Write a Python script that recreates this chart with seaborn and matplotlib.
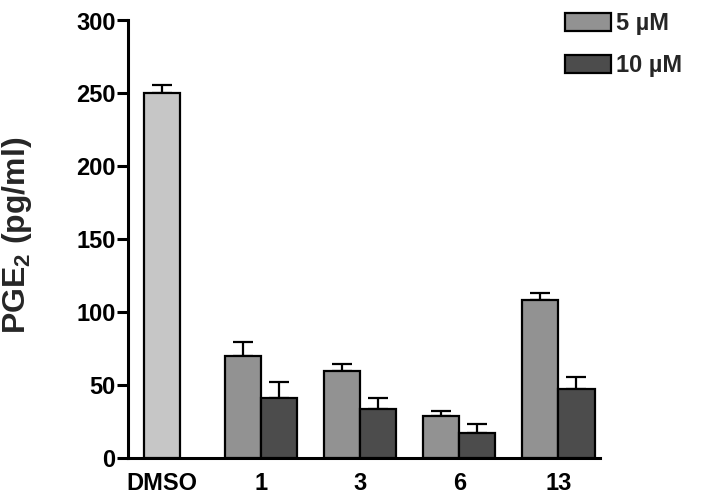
import matplotlib
matplotlib.use("Agg")
import matplotlib.pyplot as plt
import matplotlib.patches as mpatches
import seaborn as sns
import pandas as pd
import numpy as np

# ---- data ----
groups = ["DMSO", "1", "3", "6", "13"]
compounds = ["1", "3", "6", "13"]
concs = ["5 µM", "10 µM"]
dmso_value = 250.3
dmso_err = 5.5
vals_5 = [70.0, 59.2, 28.8, 108.4]
errs_5 = [9.1, 5.1, 3.2, 4.6]
vals_10 = [41.0, 33.6, 16.9, 46.7]
errs_10 = [10.5, 7.4, 6.2, 8.7]
yticks = [0, 50, 100, 150, 200, 250, 300]

sns.set_theme(style="white")
plt.rcParams["font.family"] = ["Liberation Sans", "DejaVu Sans"]
plt.rcParams["font.weight"] = "bold"
plt.rcParams["mathtext.fontset"] = "custom"
plt.rcParams["mathtext.rm"] = "Liberation Sans:bold"
plt.rcParams["mathtext.default"] = "rm"

c_dmso = "#c6c6c6"
c_5 = "#929292"
c_10 = "#4c4c4c"

df = pd.DataFrame({
    "group": compounds * 2,
    "conc": [concs[0]] * 4 + [concs[1]] * 4,
    "value": vals_5 + vals_10,
})

fig = plt.figure(figsize=(7.14, 4.94), dpi=100)
ax = fig.add_axes([128 / 714, 1 - 457.5 / 494, 472 / 714, 437 / 494])

sns.barplot(data=df, x="group", y="value", hue="conc", order=groups,
            hue_order=concs, palette=[c_5, c_10], width=0.73,
            edgecolor="black", linewidth=1.6, errorbar=None, ax=ax,
            legend=False, zorder=3)
sns.barplot(x=["DMSO"], y=[dmso_value], order=groups, color=c_dmso,
            width=0.365, edgecolor="black", linewidth=1.6, errorbar=None,
            ax=ax, zorder=3)

# error bars (upper only) at bar positions
bars = sorted([p for p in ax.patches if p.get_height() > 0],
              key=lambda p: p.get_x())
dmso_bar = bars[0]
other = bars[1:]
errs_inter = []
for a, b in zip(errs_5, errs_10):
    errs_inter += [a, b]
xs = [dmso_bar.get_x() + dmso_bar.get_width() / 2] + \
     [p.get_x() + p.get_width() / 2 for p in other]
hs = [dmso_bar.get_height()] + [p.get_height() for p in other]
es = [dmso_err] + errs_inter
ax.errorbar(xs, hs, yerr=[np.zeros(len(es)), es], fmt="none",
            ecolor="black", elinewidth=1.6, capsize=7, capthick=1.6,
            zorder=2)

ax.set_ylim(0, 300)
ax.set_xlim(-0.343, 4.42)
ax.set_yticks(yticks)
ax.set_yticklabels([str(t) for t in yticks], fontsize=17, fontweight="bold")
ax.set_xticks(range(len(groups)))
ax.set_xticklabels(groups, fontsize=17, fontweight="bold")
ax.set_xlabel("")
ax.set_ylabel(r"PGE$_2$ (pg/ml)", fontsize=23, fontweight="bold")
ax.yaxis.set_label_coords(-0.199, 0.508)

for s in ["top", "right"]:
    ax.spines[s].set_visible(False)
for s in ["left", "bottom"]:
    ax.spines[s].set_linewidth(2.2)
    ax.spines[s].set_color("black")
ax.tick_params(axis="y", direction="out", length=8, width=2.2, pad=1,
               left=True, colors="black")
ax.tick_params(axis="x", length=0, pad=10.5, colors="black")
ax.grid(False)

handles = [mpatches.Patch(facecolor=c_5, edgecolor="black", linewidth=1.6),
           mpatches.Patch(facecolor=c_10, edgecolor="black", linewidth=1.6)]
leg = fig.legend(handles, concs, loc="upper left",
                 bbox_to_anchor=(565 / 714, 1 - 12 / 494), frameon=False,
                 prop={"size": 17, "weight": "bold"}, handlelength=1.95,
                 handleheight=0.8, handletextpad=0.2, labelspacing=0.82,
                 borderpad=0, borderaxespad=0)

fig.savefig("out.png", dpi=100)
